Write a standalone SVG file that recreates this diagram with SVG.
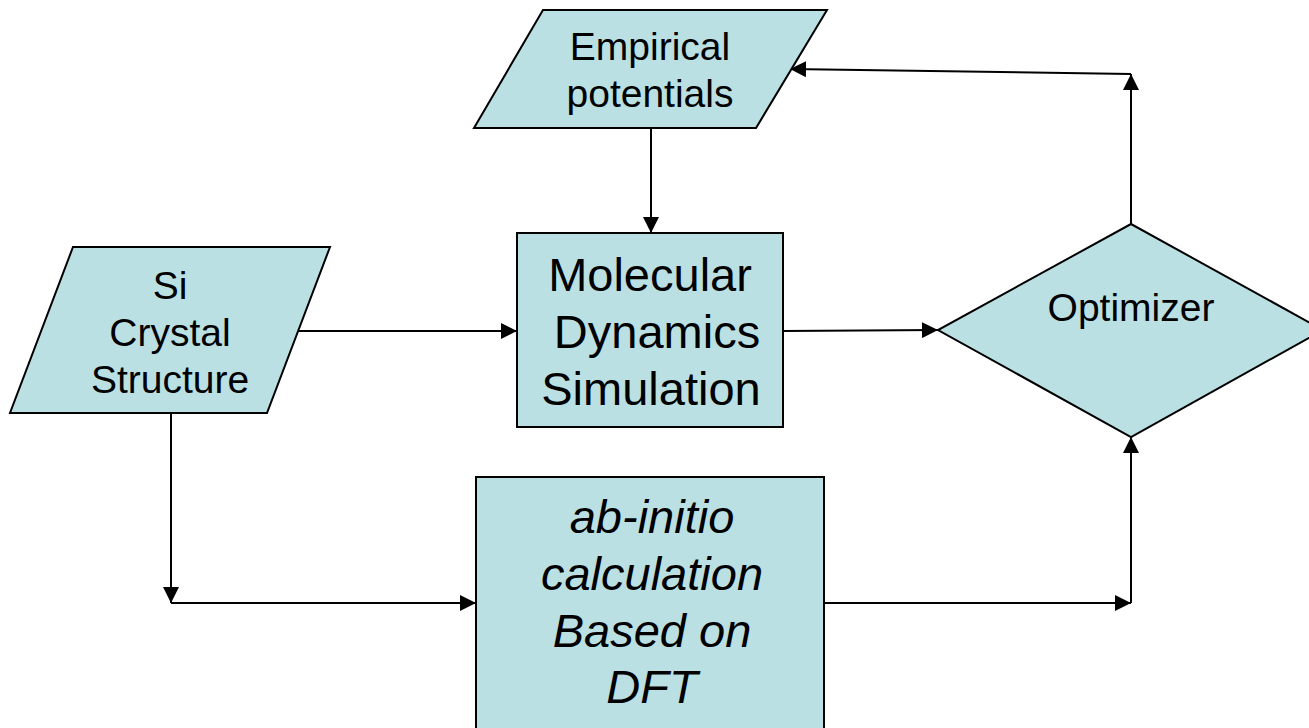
<svg xmlns="http://www.w3.org/2000/svg" width="1309" height="728" viewBox="0 0 1309 728">
  <style>
    .shape { fill: #BBE0E3; stroke: #000; stroke-width: 2; stroke-linejoin: miter; }
    .label { font-family: "Liberation Sans", Arial, sans-serif; fill: #000; text-anchor: middle; }
    .small { font-size: 39px; }
    .big { font-size: 47px; }
    .ital { font-style: italic; }
    .wire { fill: none; stroke: #000; stroke-width: 2; }
  </style>
  <defs>
    <marker id="arrow" viewBox="0 0 16 16" refX="16" refY="8" markerWidth="16" markerHeight="16" markerUnits="userSpaceOnUse" orient="auto">
      <path d="M0,0 L16,8 L0,16 Z" fill="#000"/>
    </marker>
  </defs>
  <rect width="1309" height="728" fill="#fff"/>

  <!-- connectors -->
  <g id="connectors">
    <line class="wire" x1="651" y1="128" x2="651" y2="233" marker-end="url(#arrow)"/>
    <line class="wire" x1="298" y1="331" x2="517" y2="331" marker-end="url(#arrow)"/>
    <line class="wire" x1="783" y1="331" x2="938" y2="330" marker-end="url(#arrow)"/>
    <line class="wire" x1="1131" y1="224" x2="1131" y2="74" marker-end="url(#arrow)"/>
    <line class="wire" x1="1131" y1="74" x2="790" y2="69" marker-end="url(#arrow)"/>
    <line class="wire" x1="171" y1="413" x2="171" y2="603" marker-end="url(#arrow)"/>
    <line class="wire" x1="171" y1="603" x2="476" y2="603" marker-end="url(#arrow)"/>
    <line class="wire" x1="824" y1="603" x2="1131" y2="603" marker-end="url(#arrow)"/>
    <line class="wire" x1="1131" y1="603" x2="1131" y2="437" marker-end="url(#arrow)"/>
  </g>

  <!-- input: empirical potentials -->
  <g id="empirical-potentials">
    <polygon class="shape" points="543,10 827,10 756,128 474,128"/>
    <text class="label small" x="650" y="60">Empirical</text>
    <text class="label small" x="650" y="107">potentials</text>
  </g>

  <!-- input: crystal structure -->
  <g id="si-crystal">
    <polygon class="shape" points="73,247 330,247 267,413 10,413"/>
    <text class="label small" x="170" y="299">Si</text>
    <text class="label small" x="170" y="346">Crystal</text>
    <text class="label small" x="170" y="393">Structure</text>
  </g>

  <!-- process: MD -->
  <g id="md-simulation">
    <rect class="shape" x="517" y="233" width="266" height="194"/>
    <text class="label big" x="650" y="291">Molecular</text>
    <text class="label big" x="657" y="348">Dynamics</text>
    <text class="label big" x="651" y="405">Simulation</text>
  </g>

  <!-- process: DFT -->
  <g id="ab-initio">
    <rect class="shape" x="476" y="477" width="348" height="270"/>
    <text class="label big ital" x="652" y="533">ab-initio</text>
    <text class="label big ital" x="652" y="590">calculation</text>
    <text class="label big ital" x="652" y="647">Based on</text>
    <text class="label big ital" x="652" y="703">DFT</text>
  </g>

  <!-- decision: optimizer -->
  <g id="optimizer">
    <polygon class="shape" points="1131,224 1323,330 1131,437 938,330"/>
    <text class="label small" x="1131" y="321">Optimizer</text>
  </g>
</svg>
